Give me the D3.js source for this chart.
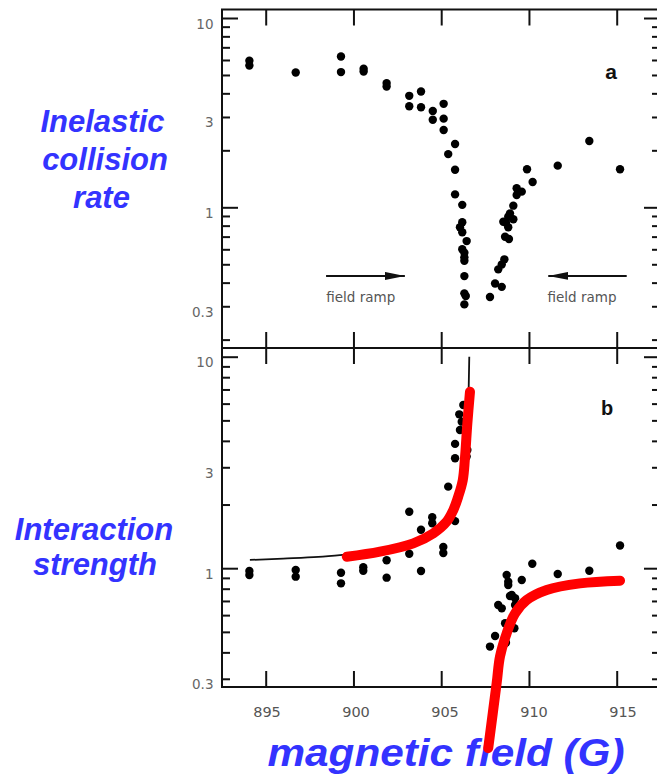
<!DOCTYPE html>
<html>
<head>
<meta charset="utf-8">
<script src="https://cdn.jsdelivr.net/npm/d3@7"></script>
<style>
  html, body { margin: 0; padding: 0; background: #fff; }
  svg { display: block; }
</style>
</head>
<body>
<script>
// ---- data -------------------------------------------------------------
// (a) inelastic collision rate vs magnetic field (G)
const rateField = [894.07, 894.07, 896.71, 899.29, 899.29, 900.58, 900.58, 901.89, 901.89,
  903.18, 903.18, 903.85, 903.85, 904.52, 904.52, 905.14, 905.14, 905.14, 905.79, 905.40,
  905.79, 905.79, 906.20, 906.20, 906.07, 906.20, 906.45, 906.20, 906.32, 906.32, 906.32,
  906.32, 906.32, 906.40, 906.32,
  907.78, 908.07, 908.45, 908.25, 908.45, 908.60, 908.64, 908.86, 908.54, 908.82, 908.92,
  909.11, 908.82, 908.69, 909.11, 909.30, 909.59, 909.30, 910.21, 909.89, 911.64, 913.44, 915.19];
const rateValue = [5.94, 5.61, 5.15, 6.26, 5.18, 5.39, 5.22, 4.53, 4.35,
  3.88, 3.42, 4.09, 3.38, 3.23, 2.90, 3.52, 2.94, 2.56, 2.16, 1.91,
  1.58, 1.17, 1.03, 0.833, 0.784, 0.738, 0.663, 0.600, 0.575, 0.544, 0.522,
  0.433, 0.351, 0.340, 0.307,
  0.336, 0.396, 0.380, 0.470, 0.499, 0.531, 0.699, 0.680, 0.839, 0.892, 0.929,
  0.864, 0.784, 0.829, 1.02, 1.26, 1.21, 1.16, 1.36, 1.59, 1.66, 2.24, 1.59];

// (b) interaction strength vs magnetic field (G)
const strengthField = [906.26, 906.03, 906.17, 906.07, 905.79, 906.49, 906.45, 905.79, 906.35,
  905.40, 903.18, 904.49, 904.49, 905.79, 903.85, 903.18, 901.89, 905.12, 905.12, 900.56,
  900.56, 899.29, 899.29, 896.71, 896.71, 894.07, 894.07, 901.89, 903.85,
  908.73, 908.82, 908.82, 909.59, 910.19, 911.64, 913.44, 915.19,
  908.25, 908.45, 908.92, 909.21, 908.64, 909.17, 908.07, 907.78, 908.69, 909.21, 909.02];
const strengthValue = [5.91, 5.34, 4.93, 4.50, 3.87, 3.62, 3.37, 3.31, 3.04,
  2.43, 1.85, 1.74, 1.63, 1.67, 1.52, 1.17, 1.09, 1.26, 1.18, 1.01,
  0.973, 0.952, 0.848, 0.981, 0.912, 0.970, 0.929, 0.902, 0.970,
  0.929, 0.863, 0.833, 0.880, 1.05, 0.939, 0.973, 1.28,
  0.670, 0.646, 0.739, 0.721, 0.549, 0.520, 0.478, 0.426, 0.444, 0.670, 0.747];

// theory curve (thin black) below the resonance
const theoryField = [894.1, 896.0, 898.0, 899.5, 901.5, 903.4, 904.6, 905.4, 905.9, 906.25, 906.45, 906.55, 906.6];
const theoryValue = [1.094, 1.11, 1.13, 1.16, 1.21, 1.32, 1.47, 1.70, 2.10, 2.80, 4.00, 6.00, 10.0];

// hand-drawn red guide curves
const redLeftField = [899.62, 901.51, 903.41, 904.55, 905.31, 905.69, 905.97, 906.23, 906.36, 906.49, 906.64];
const redLeftValue = [1.133, 1.197, 1.311, 1.462, 1.66, 1.884, 2.18, 2.61, 3.37, 4.84, 6.83];
const redRightField = [907.68, 908.16, 908.35, 908.73, 909.21, 909.87, 911.01, 912.91, 915.19];
const redRightValue = [0.141, 0.286, 0.382, 0.492, 0.612, 0.707, 0.789, 0.848, 0.873];

// ticks
const xTicks = [895, 900, 905, 910, 915];
const yTickValues = [0.2, 0.3, 0.4, 0.5, 0.6, 0.7, 0.8, 0.9, 1, 2, 3, 4, 5, 6, 7, 8, 9, 10];
const yLongTicks = [1, 10];
const yTickLabels = [0.3, 1, 3, 10];

// ---- layout -----------------------------------------------------------
const W = 657, H = 776;
const frameL = 222, frameR = 660;
const x = d3.scaleLinear().domain([895, 915]).range([265.7, 616.7]);
const xLabel = d3.scaleLinear().domain([895, 915]).range([267, 623]);

const panels = [
  { top: 9.5, bottom: 348, y: d3.scaleLog().domain([1, 10]).range([207.3, 18]) },
  { top: 348, bottom: 687, y: d3.scaleLog().domain([1, 10]).range([568.2, 356.7]) }
];

const svg = d3.select("body").append("svg")
  .attr("width", W).attr("height", H)
  .attr("viewBox", `0 0 ${W} ${H}`);

const tickColor = "#111";
const labelFont = "'DejaVu Sans', Verdana, sans-serif";

panels.forEach((p, i) => {
  const g = svg.append("g");
  const inside = v => p.y(v) > p.top + 1 && p.y(v) < p.bottom - 1;
  const shortT = yTickValues.filter(v => inside(v) && !yLongTicks.includes(v));
  const longT = yTickValues.filter(v => inside(v) && yLongTicks.includes(v));

  const styleAxis = sel => {
    sel.select(".domain").remove();
    sel.selectAll("line").attr("stroke", tickColor).attr("stroke-width", 2);
  };

  // left & right y ticks (pointing inward)
  g.append("g").attr("transform", `translate(${frameL},0)`)
    .call(d3.axisRight(p.y).tickValues(shortT).tickSize(8).tickFormat("")).call(styleAxis);
  g.append("g").attr("transform", `translate(${frameL},0)`)
    .call(d3.axisRight(p.y).tickValues(longT).tickSize(16).tickFormat("")).call(styleAxis);
  g.append("g").attr("transform", `translate(${frameR},0)`)
    .call(d3.axisLeft(p.y).tickValues(shortT).tickSize(8).tickFormat("")).call(styleAxis);
  g.append("g").attr("transform", `translate(${frameR},0)`)
    .call(d3.axisLeft(p.y).tickValues(longT).tickSize(16).tickFormat("")).call(styleAxis);

  // x ticks on top and bottom edges of each panel
  g.append("g").attr("transform", `translate(0,${p.top})`)
    .call(d3.axisBottom(x).tickValues(xTicks).tickSize(16).tickFormat("")).call(styleAxis);
  g.append("g").attr("transform", `translate(0,${p.bottom})`)
    .call(d3.axisTop(x).tickValues(xTicks).tickSize(16).tickFormat("")).call(styleAxis);

  // y tick labels
  g.selectAll("text.ylab").data(yTickLabels).join("text")
    .attr("class", "ylab")
    .attr("x", 213.5)
    .attr("y", d => p.y(d) + 10.5)
    .attr("text-anchor", "end")
    .attr("font-family", labelFont)
    .attr("font-size", 13.5)
    .attr("fill", "#666")
    .text(d => d);
});

// frame
const frame = svg.append("g").attr("stroke", tickColor).attr("stroke-width", 2).attr("fill", "none");
frame.append("line").attr("x1", frameL).attr("x2", frameL).attr("y1", panels[0].top).attr("y2", panels[1].bottom);
frame.append("line").attr("x1", frameR).attr("x2", frameR).attr("y1", panels[0].top).attr("y2", panels[1].bottom);
[panels[0].top, panels[0].bottom, panels[1].bottom].forEach(yy => {
  frame.append("line").attr("x1", frameL - 1).attr("x2", frameR).attr("y1", yy).attr("y2", yy);
});

// x tick labels
svg.selectAll("text.xlab").data(xTicks).join("text")
  .attr("class", "xlab")
  .attr("x", d => xLabel(d))
  .attr("y", 716.5)
  .attr("text-anchor", "middle")
  .attr("font-family", labelFont)
  .attr("font-size", 14.5)
  .attr("fill", "#555")
  .text(d => d);

// panel letters
svg.append("text").attr("x", 611).attr("y", 78.5).attr("text-anchor", "middle")
  .attr("font-family", "'Liberation Sans', Arial, sans-serif").attr("font-weight", "bold")
  .attr("font-size", 21).attr("fill", "#111").text("a");
svg.append("text").attr("x", 607).attr("y", 415).attr("text-anchor", "middle")
  .attr("font-family", "'Liberation Sans', Arial, sans-serif").attr("font-weight", "bold")
  .attr("font-size", 20).attr("fill", "#111").text("b");

// field-ramp arrows in panel a
const yA = panels[0].y;
const defs = svg.append("defs");
defs.append("marker").attr("id", "head")
  .attr("viewBox", "0 0 20 8").attr("refX", 20).attr("refY", 4)
  .attr("markerWidth", 20).attr("markerHeight", 8)
  .attr("markerUnits", "userSpaceOnUse").attr("orient", "auto")
  .append("path").attr("d", "M0,0 L20,4 L0,8 Z").attr("fill", "#111");

const ramps = [
  { from: 898.44, to: 902.93, label: 898.44 + (902.93 - 898.44) * 0.44 },
  { from: 915.57, to: 911.10, label: 911.10 + (915.57 - 911.10) * 0.43 }
];
ramps.forEach(r => {
  svg.append("line")
    .attr("x1", x(r.from)).attr("x2", x(r.to))
    .attr("y1", yA(0.434)).attr("y2", yA(0.434))
    .attr("stroke", "#111").attr("stroke-width", 2)
    .attr("marker-end", "url(#head)");
  svg.append("text")
    .attr("x", x(r.label)).attr("y", yA(0.434) + 26.5)
    .attr("text-anchor", "middle")
    .attr("font-family", labelFont).attr("font-size", 13.5)
    .attr("fill", "#555").text("field ramp");
});

// theory curve
const yB = panels[1].y;
svg.append("path")
  .datum(d3.range(theoryField.length))
  .attr("d", d3.line().curve(d3.curveMonotoneX)
    .x(i => x(theoryField[i])).y(i => yB(theoryValue[i])))
  .attr("fill", "none").attr("stroke", "#111").attr("stroke-width", 1.8);

// data points
svg.append("g").selectAll("circle").data(d3.range(rateField.length)).join("circle")
  .attr("cx", i => x(rateField[i])).attr("cy", i => yA(rateValue[i]))
  .attr("r", 4.2).attr("fill", "#000");
svg.append("g").selectAll("circle").data(d3.range(strengthField.length)).join("circle")
  .attr("cx", i => x(strengthField[i])).attr("cy", i => yB(strengthValue[i]))
  .attr("r", 4.2).attr("fill", "#000");

// axis titles (blue)
const titleFont = "'Liberation Sans', Arial, sans-serif";
const blue = "#3333ff";
const title = (txt, cx, by, size, len) => {
  const t = svg.append("text")
    .attr("x", cx).attr("y", by).attr("text-anchor", "middle")
    .attr("font-family", titleFont).attr("font-weight", "bold").attr("font-style", "italic")
    .attr("font-size", size).attr("fill", blue).text(txt);
  if (len) t.attr("textLength", len).attr("lengthAdjust", "spacingAndGlyphs");
  return t;
};
title("Inelastic", 102.5, 131.5, 31);
title("collision", 105, 170, 31);
title("rate", 101.5, 208, 31);
title("Interaction", 94, 540, 31);
title("strength", 95, 575, 31);
title("magnetic field (G)", 446, 766, 38, 357);

// red guide curves
[[redLeftField, redLeftValue], [redRightField, redRightValue]].forEach(([fx, fv]) => {
  svg.append("path")
    .datum(d3.range(fx.length))
    .attr("d", d3.line().curve(d3.curveCatmullRom)
      .x(i => x(fx[i])).y(i => yB(fv[i])))
    .attr("fill", "none").attr("stroke", "#ff0000").attr("stroke-width", 10)
    .attr("stroke-linecap", "round").attr("stroke-linejoin", "round");
});
</script>
</body>
</html>
